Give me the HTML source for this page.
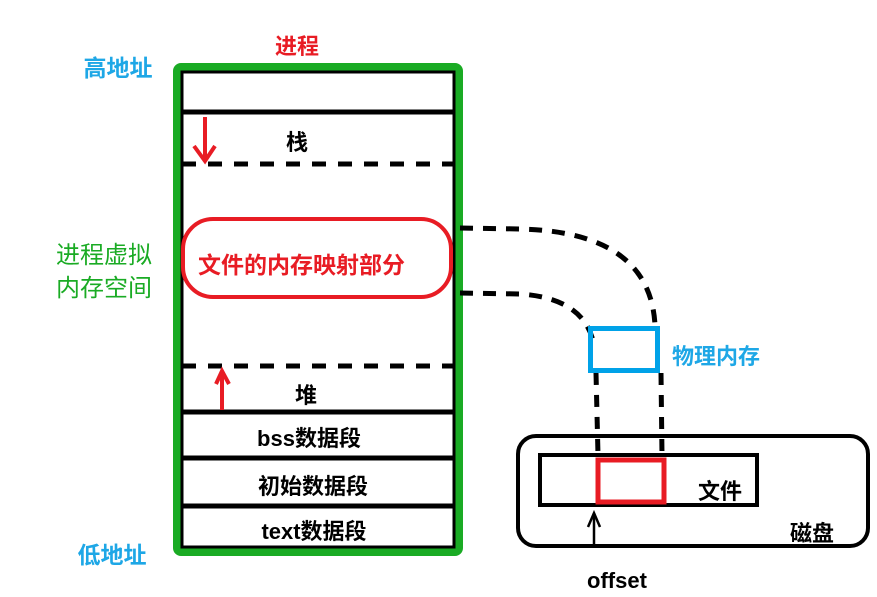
<!DOCTYPE html>
<html><head><meta charset="utf-8"><style>
body{margin:0;background:#fff;}
svg text{font-family:"Liberation Sans","Noto Sans CJK SC",sans-serif;font-weight:bold;}
</style></head><body>
<svg width="877" height="592" viewBox="0 0 877 592" xmlns="http://www.w3.org/2000/svg">
<rect width="877" height="592" fill="#fff"/>
<rect x="177" y="67" width="282" height="485" rx="4" fill="none" stroke="#1aab24" stroke-width="8"/>
<rect x="182" y="72" width="272" height="475" fill="none" stroke="#000" stroke-width="3"/>
<line x1="182" y1="112" x2="454" y2="112" stroke="#000" stroke-width="5"/>
<line x1="182" y1="164" x2="454" y2="164" stroke="#000" stroke-width="5" stroke-dasharray="14,12"/>
<line x1="182" y1="366" x2="454" y2="366" stroke="#000" stroke-width="5" stroke-dasharray="14,12"/>
<line x1="182" y1="412" x2="454" y2="412" stroke="#000" stroke-width="5"/>
<line x1="182" y1="458" x2="454" y2="458" stroke="#000" stroke-width="5"/>
<line x1="182" y1="506" x2="454" y2="506" stroke="#000" stroke-width="5"/>
<line x1="205" y1="117" x2="205" y2="160" stroke="#e81c24" stroke-width="4"/>
<polyline points="194,146 205,161 215,146" fill="none" stroke="#e81c24" stroke-width="4"/>
<line x1="222" y1="410" x2="222" y2="372" stroke="#e81c24" stroke-width="4"/>
<polyline points="216,384 222,371 229,384" fill="none" stroke="#e81c24" stroke-width="4"/>
<rect x="183" y="219" width="268" height="78" rx="30" fill="none" stroke="#e81c24" stroke-width="4"/>
<path d="M460 228 L520 229 Q650 232 655 325" fill="none" stroke="#000" stroke-width="5" stroke-dasharray="13,10"/>
<path d="M460 293 L520 294 Q585 298 594 345" fill="none" stroke="#000" stroke-width="5" stroke-dasharray="13,10"/>
<line x1="596" y1="373" x2="598" y2="455" stroke="#000" stroke-width="5" stroke-dasharray="12,10"/>
<line x1="661" y1="373" x2="662" y2="455" stroke="#000" stroke-width="5" stroke-dasharray="12,10"/>
<rect x="590.5" y="328.5" width="67" height="42" fill="none" stroke="#00a2e8" stroke-width="5"/>
<rect x="518" y="436" width="350" height="110" rx="18" fill="none" stroke="#000" stroke-width="4"/>
<rect x="540" y="455" width="217" height="50" fill="none" stroke="#000" stroke-width="4"/>
<rect x="598" y="460" width="66" height="42" fill="none" stroke="#e81c24" stroke-width="5"/>
<line x1="594" y1="548" x2="594" y2="513" stroke="#000" stroke-width="2.5"/>
<polyline points="588,527 594,513 600,527" fill="none" stroke="#000" stroke-width="2.5"/>
<text x="297" y="54" font-size="22" fill="#e81c24" text-anchor="middle">进程</text>
<text x="118" y="76" font-size="23" fill="#1ea7e6" text-anchor="middle">高地址</text>
<text x="112" y="563" font-size="23" fill="#1ea7e6" text-anchor="middle">低地址</text>
<text x="152" y="263" font-size="24" fill="#1aab24" text-anchor="end" style="font-weight:normal">进程虚拟</text>
<text x="152" y="296" font-size="24" fill="#1aab24" text-anchor="end" style="font-weight:normal">内存空间</text>
<text x="297" y="150" font-size="22" fill="#000" text-anchor="middle">栈</text>
<text x="198" y="273" font-size="23" fill="#e81c24">文件的内存映射部分</text>
<text x="306" y="403" font-size="22" fill="#000" text-anchor="middle">堆</text>
<text x="309" y="446" font-size="22" fill="#000" text-anchor="middle">bss数据段</text>
<text x="313" y="494" font-size="22" fill="#000" text-anchor="middle">初始数据段</text>
<text x="314" y="539" font-size="22" fill="#000" text-anchor="middle">text数据段</text>
<text x="672" y="364" font-size="22" fill="#1ea7e6">物理内存</text>
<text x="698" y="499" font-size="22" fill="#000">文件</text>
<text x="790" y="541" font-size="22" fill="#000">磁盘</text>
<text x="617" y="588" font-size="22" fill="#000" text-anchor="middle">offset</text>
</svg>
</body></html>
